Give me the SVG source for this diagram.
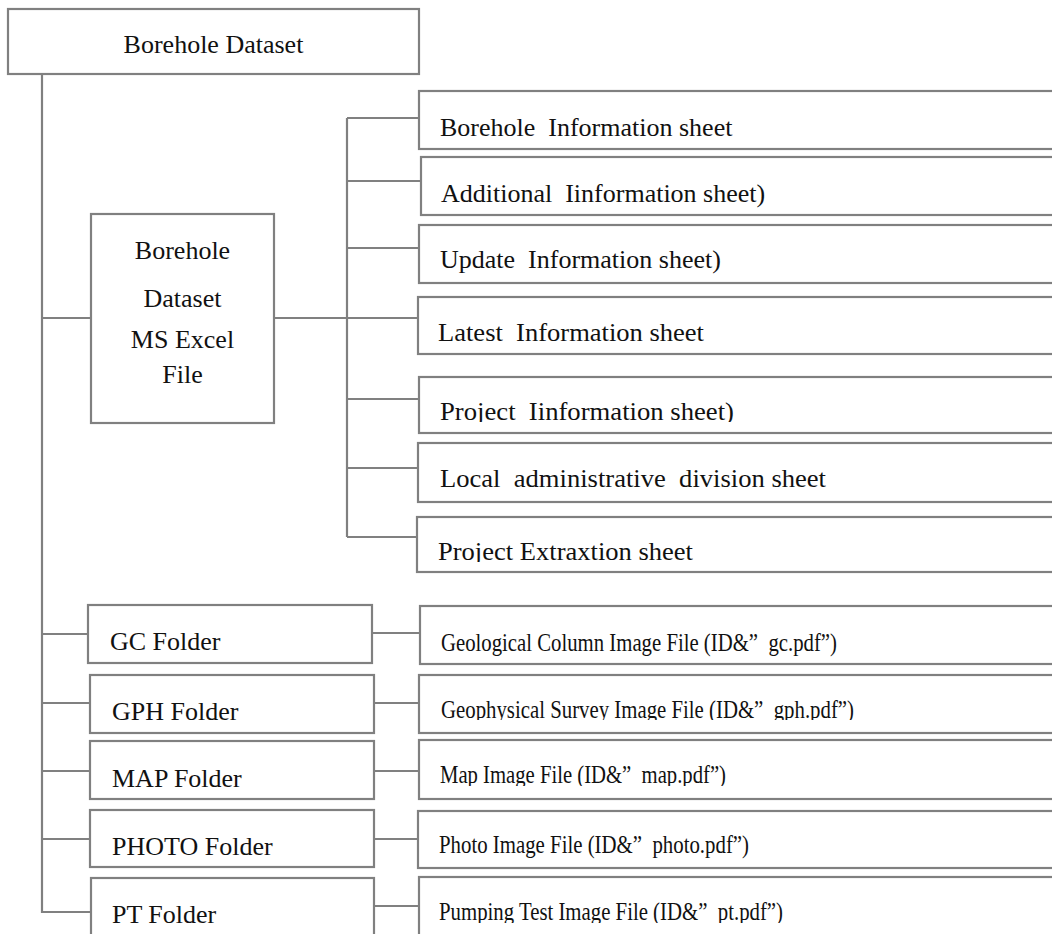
<svg xmlns="http://www.w3.org/2000/svg" width="1052" height="934" viewBox="0 0 1052 934">
  <style>
    .box { fill: #ffffff; stroke: #808080; stroke-width: 2.2; }
    .wire { fill: none; stroke: #808080; stroke-width: 2.2; }
    text { font-family: "Liberation Serif", "Times New Roman", serif; font-size: 26px; fill: #111111; white-space: pre; }
    .mid { text-anchor: middle; }
  </style>
  <defs>
    <!-- descenders of some labels are cut off by their text frames -->
    <clipPath id="cut-project"><rect x="0" y="0" width="1052" height="422"/></clipPath>
    <clipPath id="cut-extraction"><rect x="0" y="0" width="1052" height="562"/></clipPath>
    <clipPath id="cut-gph"><rect x="0" y="0" width="1052" height="720"/></clipPath>
    <clipPath id="cut-map"><rect x="0" y="0" width="1052" height="786"/></clipPath>
    <clipPath id="cut-pt"><rect x="0" y="0" width="1052" height="923"/></clipPath>
  </defs>
  <rect width="1052" height="934" fill="#ffffff"/>

  <!-- connectors -->
  <g id="connectors">
    <!-- main trunk -->
    <path class="wire" d="M42 75 V912 H91"/>
    <path class="wire" d="M42 318 H91"/>
    <path class="wire" d="M42 634 H88"/>
    <path class="wire" d="M42 703 H90"/>
    <path class="wire" d="M42 771 H90"/>
    <path class="wire" d="M42 839 H90"/>
    <!-- excel file to sheets -->
    <path class="wire" d="M274 318 H419"/>
    <path class="wire" d="M347 118 V537"/>
    <path class="wire" d="M347 118 H419"/>
    <path class="wire" d="M347 181 H421"/>
    <path class="wire" d="M347 248 H419"/>
    <path class="wire" d="M347 399 H419"/>
    <path class="wire" d="M347 468 H418"/>
    <path class="wire" d="M347 537 H417"/>
    <!-- folders to image files -->
    <path class="wire" d="M372 633 H420"/>
    <path class="wire" d="M374 703 H419"/>
    <path class="wire" d="M374 771 H419"/>
    <path class="wire" d="M374 839 H418"/>
    <path class="wire" d="M374 906 H419"/>
  </g>

  <g id="root">
    <rect class="box" x="8" y="9" width="411" height="65"/>
    <text class="mid" x="213.5" y="53">Borehole Dataset</text>
  </g>

  <g id="excel-file">
    <rect class="box" x="91" y="214" width="183" height="209"/>
    <text class="mid" x="182.5" y="259">Borehole</text>
    <text class="mid" x="182.5" y="307">Dataset</text>
    <text class="mid" x="182.5" y="348">MS Excel</text>
    <text class="mid" x="182.5" y="383">File</text>
  </g>

  <!-- sheets -->
  <g id="sheet-borehole">
    <rect class="box" x="419" y="91" width="650" height="58"/>
    <text x="440" y="136">Borehole  Information sheet</text>
  </g>
  <g id="sheet-additional">
    <rect class="box" x="421" y="157" width="650" height="58"/>
    <text x="441" y="202">Additional  Iinformation sheet)</text>
  </g>
  <g id="sheet-update">
    <rect class="box" x="419" y="225" width="650" height="58"/>
    <text x="440" y="268">Update  Information sheet)</text>
  </g>
  <g id="sheet-latest">
    <rect class="box" x="418" y="297" width="650" height="57"/>
    <text x="438" y="341" textLength="266" lengthAdjust="spacingAndGlyphs">Latest  Information sheet</text>
  </g>
  <g id="sheet-project">
    <rect class="box" x="419" y="377" width="650" height="56"/>
    <text x="440" y="420" clip-path="url(#cut-project)" textLength="294" lengthAdjust="spacingAndGlyphs">Project  Iinformation sheet)</text>
  </g>
  <g id="sheet-local">
    <rect class="box" x="418" y="443" width="650" height="59"/>
    <text x="440" y="487" textLength="386" lengthAdjust="spacingAndGlyphs">Local  administrative  division sheet</text>
  </g>
  <g id="sheet-extraction">
    <rect class="box" x="417" y="517" width="650" height="55"/>
    <text x="438" y="560" clip-path="url(#cut-extraction)" textLength="255" lengthAdjust="spacingAndGlyphs">Project Extraxtion sheet</text>
  </g>

  <!-- folders -->
  <g id="folder-gc">
    <rect class="box" x="88" y="605" width="284" height="58"/>
    <text x="110" y="650">GC Folder</text>
  </g>
  <g id="folder-gph">
    <rect class="box" x="90" y="675" width="284" height="58"/>
    <text x="112" y="720">GPH Folder</text>
  </g>
  <g id="folder-map">
    <rect class="box" x="90" y="741" width="284" height="58"/>
    <text x="112" y="787">MAP Folder</text>
  </g>
  <g id="folder-photo">
    <rect class="box" x="90" y="810" width="284" height="57"/>
    <text x="112" y="855">PHOTO Folder</text>
  </g>
  <g id="folder-pt">
    <rect class="box" x="91" y="878" width="283" height="70"/>
    <text x="112" y="923">PT Folder</text>
  </g>

  <!-- image files -->
  <g id="file-gc">
    <rect class="box" x="420" y="606" width="650" height="58"/>
    <text x="441" y="651" textLength="396" lengthAdjust="spacingAndGlyphs">Geological Column Image File (ID&amp;”  gc.pdf”)</text>
  </g>
  <g id="file-gph">
    <rect class="box" x="419" y="675" width="650" height="58"/>
    <text x="441" y="718" clip-path="url(#cut-gph)" textLength="413" lengthAdjust="spacingAndGlyphs">Geophysical Survey Image File (ID&amp;”  gph.pdf”)</text>
  </g>
  <g id="file-map">
    <rect class="box" x="419" y="740" width="650" height="59"/>
    <text x="440" y="783" clip-path="url(#cut-map)" textLength="286" lengthAdjust="spacingAndGlyphs">Map Image File (ID&amp;”  map.pdf”)</text>
  </g>
  <g id="file-photo">
    <rect class="box" x="418" y="811" width="650" height="57"/>
    <text x="439" y="853" textLength="310" lengthAdjust="spacingAndGlyphs">Photo Image File (ID&amp;”  photo.pdf”)</text>
  </g>
  <g id="file-pt">
    <rect class="box" x="419" y="877" width="650" height="70"/>
    <text x="439" y="920" clip-path="url(#cut-pt)" textLength="344" lengthAdjust="spacingAndGlyphs">Pumping Test Image File (ID&amp;”  pt.pdf”)</text>
  </g>
</svg>
